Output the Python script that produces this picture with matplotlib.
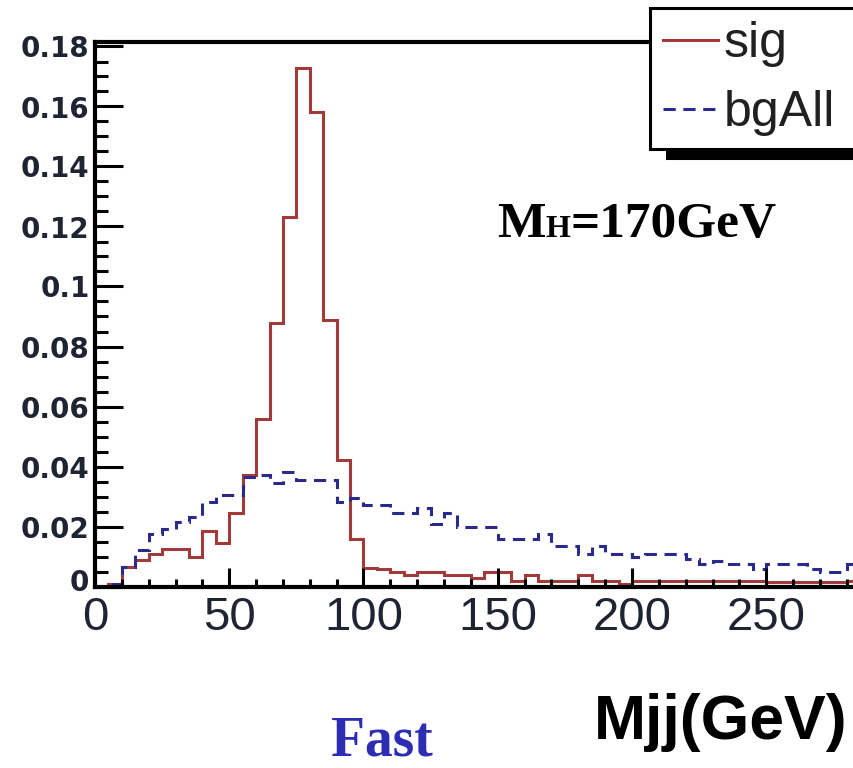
import numpy as np
import matplotlib
matplotlib.use("Agg")
import matplotlib.pyplot as plt
from matplotlib.ticker import FixedLocator, MultipleLocator
from matplotlib.transforms import ScaledTranslation

# Dijet invariant mass, 5 GeV bins from 0 to 285 GeV (unit-normalised)
bin_edges = np.arange(0, 290, 5)

sig = [
    0.0, 0.001, 0.0066, 0.0088, 0.011, 0.0124, 0.0124, 0.0097, 0.0185, 0.0146,
    0.0246, 0.0372, 0.0557, 0.0877, 0.1233, 0.1728, 0.158, 0.089, 0.0422, 0.016,
    0.0063, 0.006, 0.0047, 0.0037, 0.0047, 0.0047, 0.0037, 0.0037, 0.0027, 0.0047,
    0.0047, 0.002, 0.0037, 0.002, 0.002, 0.002, 0.0037, 0.002, 0.002, 0.001,
    0.002, 0.002, 0.002, 0.002, 0.002, 0.002, 0.002, 0.002, 0.002, 0.002,
    0.0015, 0.0015, 0.0015, 0.0015, 0.0015, 0.0015, 0.002,
]

bg_all = [
    0.0, 0.001, 0.0066, 0.0122, 0.0175, 0.0192, 0.0216, 0.0233, 0.0283, 0.0305,
    0.0305, 0.0365, 0.0372, 0.0344, 0.0383, 0.0355, 0.0355, 0.0355, 0.0283, 0.0294,
    0.0272, 0.0272, 0.0246, 0.0246, 0.0261, 0.021, 0.0245, 0.0197, 0.0197, 0.0197,
    0.0158, 0.0158, 0.0158, 0.0175, 0.0135, 0.0135, 0.011, 0.0135, 0.011, 0.011,
    0.0099, 0.011, 0.011, 0.011, 0.0092, 0.0074, 0.0086, 0.0074, 0.0074, 0.0058,
    0.0074, 0.0074, 0.0074, 0.0058, 0.0047, 0.0047, 0.0074,
]

x_ticks = [0, 50, 100, 150, 200, 250]
y_ticks = [0, 0.02, 0.04, 0.06, 0.08, 0.10, 0.12, 0.14, 0.16, 0.18]
y_tick_labels = ["0", "0.02", "0.04", "0.06", "0.08", "0.1", "0.12", "0.14", "0.16", "0.18"]

RED = "#a33a3a"
BLUE = "#2a2a8c"
LABEL_COLOR = "#1f2433"

W, H = 854, 768
fig = plt.figure(figsize=(W / 100, H / 100), dpi=100)
fig.patch.set_facecolor("white")

# frame runs past the right edge of the canvas
ax = fig.add_axes([95 / W, 181.5 / H, 805.5 / W, 544.5 / H])

h_sig = ax.stairs(sig, bin_edges, color=RED, linewidth=2.2)
h_bg = ax.stairs(bg_all, bin_edges, color=BLUE, linewidth=2.2,
                 linestyle=(0, (4, 2.5)))

ax.set_xlim(0, 300)
ax.set_ylim(0, 0.1815)

for side in ["left", "bottom", "top"]:
    ax.spines[side].set_linewidth(3)

# ROOT-style inward ticks
ax.xaxis.set_major_locator(FixedLocator(x_ticks))
ax.xaxis.set_minor_locator(MultipleLocator(10))
ax.yaxis.set_major_locator(FixedLocator(y_ticks))
ax.yaxis.set_minor_locator(MultipleLocator(0.005))
ax.tick_params(which="both", direction="in", top=False, right=False)
ax.tick_params(axis="x", which="major", length=14, width=2.2, pad=7)
ax.tick_params(axis="x", which="minor", length=6, width=2.2)
ax.tick_params(axis="y", which="major", length=20, width=2.2, pad=4)
ax.tick_params(axis="y", which="minor", length=9.5, width=2.2)

ax.set_xticklabels([str(v) for v in x_ticks], fontsize=34,
                   family="Liberation Sans", color=LABEL_COLOR)
ax.set_yticklabels(y_tick_labels, fontsize=20, fontweight="bold",
                   family="DejaVu Sans", color=LABEL_COLOR)

# lift the y "0" a little so it clears the x "0"
zero_lbl = ax.get_yticklabels()[0]
zero_lbl.set_transform(zero_lbl.get_transform()
                       + ScaledTranslation(0, 5 / 72, fig.dpi_scale_trans))

leg = ax.legend([h_sig, h_bg], ["sig", "bgAll"],
                loc="upper left", mode="expand",
                bbox_to_anchor=(650 / W, 0.80, 260 / W, 1 - 8 / H - 0.80),
                bbox_transform=fig.transFigure, borderaxespad=0,
                prop={"family": "Liberation Sans", "size": 36},
                labelcolor="#202020", handlelength=1.1, handletextpad=0.12,
                borderpad=0.26, labelspacing=0.46,
                fancybox=False, framealpha=1,
                shadow={"ox": 12, "oy": -6.5, "facecolor": "black",
                        "edgecolor": "black", "alpha": 1})
leg.get_frame().set_edgecolor("black")
leg.get_frame().set_linewidth(2.2)
leg.get_frame().set_facecolor("white")

# M_H = 170 GeV, with a small-capital H
base_y = 1 - 237 / H
serif = {"family": "Liberation Serif", "weight": "bold"}
m_txt = fig.text(497 / W, base_y, "M", fontsize=37, va="baseline", **serif)
h_txt = ax.annotate("H", xy=(1, base_y), xycoords=(m_txt, "figure fraction"),
                    fontsize=23, va="baseline", ha="left",
                    annotation_clip=False, **serif)
ax.annotate("=170GeV", xy=(1, base_y), xycoords=(h_txt, "figure fraction"),
            fontsize=37, va="baseline", ha="left",
            annotation_clip=False, **serif)

fig.text(848 / W, 1 - 739 / H, "Mjj(GeV)", ha="right", va="baseline",
         fontsize=45, fontweight="bold", family="Liberation Sans")
fig.text(382 / W, 1 - 756 / H, "Fast", ha="center", va="baseline",
         fontsize=40, fontweight="bold", family="Liberation Serif",
         color="#2d2db4")

fig.savefig("out.png", dpi=100)
